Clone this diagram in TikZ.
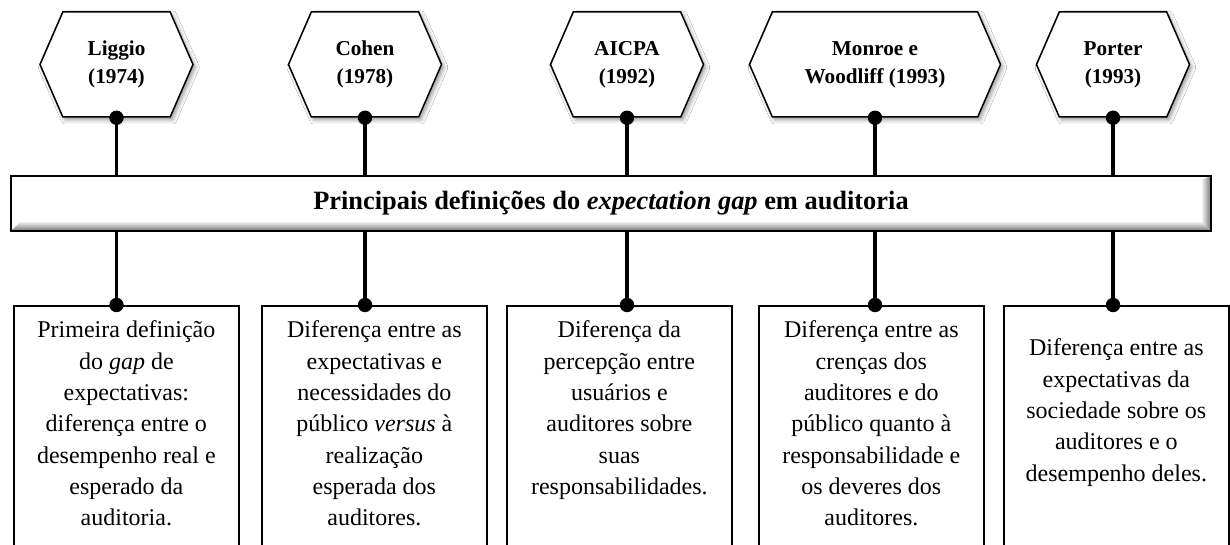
\documentclass[tikz,border=0pt]{standalone}
\usepackage{fontspec}
\setmainfont{Liberation Serif}
\usetikzlibrary{shapes.symbols,shadows.blur,calc}

\tikzset{
  autor/.style={signal, signal to=east and west, signal pointer angle=133,
    draw, fill=white, line width=0.75pt, minimum height=52.5pt,
    minimum width=76.5pt, inner sep=0pt, align=center,
    font=\fontsize{10.6}{14}\selectfont\bfseries,
    blur shadow={shadow xshift=1.2pt, shadow yshift=-1.5pt,
      shadow blur radius=2pt, shadow opacity=40}},
  caixa/.style={draw, line width=0.85pt, minimum width=112.5pt,
    minimum height=130pt, anchor=north west, inner sep=0pt},
  texto/.style={anchor=north, align=center, inner sep=0pt,
    font=\fontsize{12}{15.65}\selectfont},
  haste/.style={line width=1.75pt},
  ponto/.style={fill=black}
}

\begin{document}
\begin{tikzpicture}[x=0.5pt,y=-0.5pt]
\fill[white] (0,0) rectangle (1230,545);
\useasboundingbox (0,0) rectangle (1230,545);
\clip (0,0) rectangle (1230,545);

% autores (hexagonos)
\node[autor] (h1) at (116.5,64.5) {Liggio\\(1974)};
\node[autor] (h2) at (365,64.5) {Cohen\\(1978)};
\node[autor] (h3) at (627,64.5) {AICPA\\(1992)};
\node[autor, minimum width=125.5pt] (h4) at (875,64.5) {Monroe e\\Woodliff (1993)};
\node[autor] (h5) at (1113,64.5) {Porter\\(1993)};

% faixa central
\node[fill=white, minimum width=600pt, minimum height=27.5pt, outer sep=0pt,
  inner sep=0pt, font=\fontsize{13.2}{16}\selectfont\bfseries] (banner) at (611,203.5)
  {Principais definições do \textit{expectation gap} em auditoria};
\shade[top color=white, bottom color=black!55]
  (banner.south west) -- (banner.south east)
  -- ([xshift=-5pt,yshift=5pt]banner.south east)
  -- ([xshift=5pt,yshift=5pt]banner.south west) -- cycle;
\shade[left color=white, right color=black!55]
  (banner.south east) -- (banner.north east)
  -- ([xshift=-5pt,yshift=-2pt]banner.north east)
  -- ([xshift=-5pt,yshift=5pt]banner.south east) -- cycle;
\draw[line width=1.25pt] (banner.south west) rectangle (banner.north east);

% caixas de definicao
\node[caixa] (c1) at (13,305) {};
\node[caixa] (c2) at (261,305) {};
\node[caixa] (c3) at (506,305) {};
\node[caixa] (c4) at (758,305) {};
\node[caixa] (c5) at (1003,305) {};

\node[texto] (t1) at ([yshift=-7.75pt]c1.north) {Primeira definição\\do \textit{gap} de\\expectativas:\\diferença entre o\\desempenho real e\\esperado da\\auditoria.};
\node[texto] (t2) at ([yshift=-7.75pt]c2.north) {Diferença entre as\\expectativas e\\necessidades do\\público \textit{versus} à\\realização\\esperada dos\\auditores.};
\node[texto] (t3) at ([yshift=-7.75pt]c3.north) {Diferença da\\percepção entre\\usuários e\\auditores sobre\\suas\\responsabilidades.};
\node[texto] (t4) at ([yshift=-7.75pt]c4.north) {Diferença entre as\\crenças dos\\auditores e do\\público quanto à\\responsabilidade e\\os deveres dos\\auditores.};
\node[texto] (t5) at ([yshift=-16.75pt]c5.north) {Diferença entre as\\expectativas da\\sociedade sobre os\\auditores e o\\desempenho deles.};

% hastes e pontos
\foreach \i in {1,...,5}
{
\draw[haste] (h\i.south) -- (banner.north -| h\i.south);
\draw[haste] (banner.south -| h\i.south) -- (c\i.north -| h\i.south);
\fill[ponto] (h\i.south) circle (3.6pt);
\fill[ponto] (c\i.north -| h\i.south) circle (3.6pt);
}
\end{tikzpicture}
\end{document}
